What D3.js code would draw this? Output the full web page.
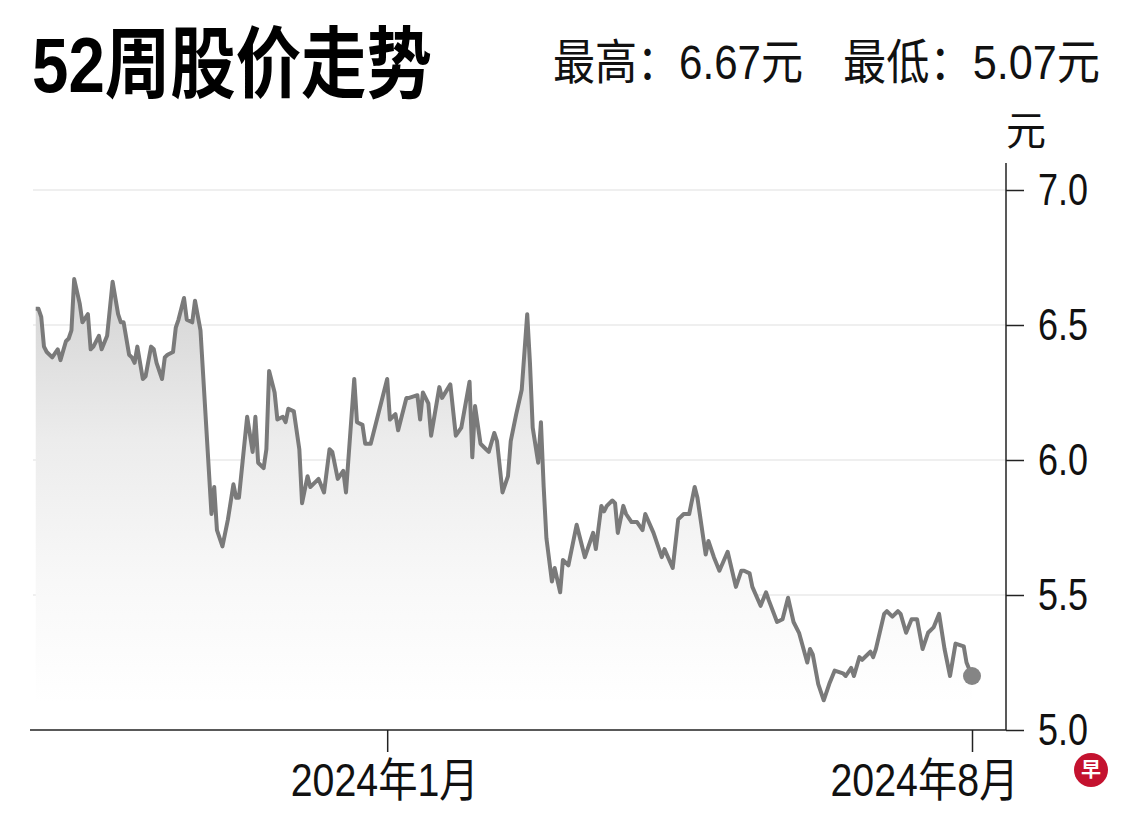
<!DOCTYPE html>
<html>
<head>
<meta charset="utf-8">
<script src="https://cdn.jsdelivr.net/npm/d3@7"></script>
<style>
  body { margin: 0; background: #fff; }
  svg { display: block; }
  .tick text { font-family: "Liberation Sans", "Noto Sans CJK SC", sans-serif; fill: #111; }
</style>
</head>
<body>
<div id="chart"></div>
<script>
// 52-week close prices (turning points)
const dates = [
  "2023-08-26","2023-08-27","2023-08-28","2023-08-29","2023-08-30","2023-09-01","2023-09-03","2023-09-04","2023-09-06","2023-09-07",
  "2023-09-08","2023-09-09","2023-09-11","2023-09-12","2023-09-14","2023-09-15","2023-09-16","2023-09-18","2023-09-19","2023-09-21",
  "2023-09-22","2023-09-23","2023-09-25","2023-09-26","2023-09-27","2023-09-29","2023-09-30","2023-10-01","2023-10-02","2023-10-04",
  "2023-10-05","2023-10-07","2023-10-08","2023-10-09","2023-10-11","2023-10-12","2023-10-13","2023-10-15","2023-10-16","2023-10-17",
  "2023-10-19","2023-10-20","2023-10-22","2023-10-23","2023-10-25","2023-10-29","2023-10-30","2023-10-31","2023-11-02","2023-11-04",
  "2023-11-06","2023-11-07","2023-11-08","2023-11-11","2023-11-13","2023-11-14","2023-11-15","2023-11-17","2023-11-18","2023-11-19",
  "2023-11-21","2023-11-22","2023-11-24","2023-11-25","2023-11-26","2023-11-28","2023-11-30","2023-12-01","2023-12-03","2023-12-04",
  "2023-12-06","2023-12-07","2023-12-09","2023-12-11","2023-12-12","2023-12-14","2023-12-16","2023-12-17","2023-12-20","2023-12-21",
  "2023-12-23","2023-12-24","2023-12-26","2023-12-27","2024-01-01","2024-01-02","2024-01-04","2024-01-05","2024-01-08","2024-01-09",
  "2024-01-12","2024-01-13","2024-01-14","2024-01-16","2024-01-17","2024-01-20","2024-01-21","2024-01-24","2024-01-26","2024-01-28",
  "2024-01-31","2024-02-01","2024-02-02","2024-02-04","2024-02-06","2024-02-07","2024-02-09","2024-02-10","2024-02-12","2024-02-14",
  "2024-02-15","2024-02-17","2024-02-19","2024-02-21","2024-02-22","2024-02-23","2024-02-25","2024-02-26","2024-02-27","2024-02-28",
  "2024-03-01","2024-03-02","2024-03-04","2024-03-05","2024-03-07","2024-03-10","2024-03-13","2024-03-16","2024-03-17","2024-03-19",
  "2024-03-20","2024-03-21","2024-03-23","2024-03-24","2024-03-25","2024-03-27","2024-03-28","2024-03-30","2024-03-31","2024-04-01",
  "2024-04-03","2024-04-04","2024-04-07","2024-04-10","2024-04-11","2024-04-14","2024-04-16","2024-04-18","2024-04-20","2024-04-22",
  "2024-04-23","2024-04-26","2024-04-27","2024-04-29","2024-05-01","2024-05-04","2024-05-07","2024-05-09","2024-05-10","2024-05-12",
  "2024-05-13","2024-05-16","2024-05-18","2024-05-19","2024-05-22","2024-05-24","2024-05-26","2024-05-28","2024-05-30","2024-06-02",
  "2024-06-03","2024-06-04","2024-06-06","2024-06-08","2024-06-10","2024-06-12","2024-06-15","2024-06-16","2024-06-18","2024-06-19",
  "2024-06-21","2024-06-22","2024-06-25","2024-06-26","2024-06-27","2024-06-30","2024-07-01","2024-07-03","2024-07-05","2024-07-06",
  "2024-07-08","2024-07-10","2024-07-12","2024-07-14","2024-07-16","2024-07-18","2024-07-20","2024-07-22","2024-07-24","2024-07-26",
  "2024-07-29","2024-07-30","2024-08-01"
];
const prices = [
  6.56,6.56,6.53,6.42,6.40,6.38,6.41,6.37,6.44,6.45,
  6.48,6.67,6.58,6.51,6.54,6.41,6.42,6.46,6.41,6.46,
  6.56,6.66,6.54,6.51,6.51,6.39,6.38,6.36,6.42,6.30,
  6.31,6.42,6.41,6.36,6.30,6.38,6.39,6.40,6.49,6.52,
  6.60,6.52,6.51,6.59,6.48,5.80,5.90,5.74,5.68,5.78,
  5.91,5.86,5.86,6.16,6.03,6.16,5.99,5.97,6.04,6.33,
  6.25,6.15,6.16,6.14,6.19,6.18,6.04,5.84,5.94,5.90,
  5.92,5.93,5.88,6.04,6.03,5.93,5.96,5.88,6.30,6.14,
  6.13,6.06,6.06,6.10,6.30,6.15,6.17,6.11,6.23,6.23,
  6.24,6.15,6.25,6.21,6.09,6.27,6.23,6.28,6.09,6.12,
  6.29,6.01,6.20,6.06,6.04,6.03,6.10,6.07,5.88,5.94,
  6.07,6.17,6.26,6.54,6.36,6.12,5.99,6.14,5.90,5.71,
  5.55,5.60,5.51,5.63,5.61,5.76,5.64,5.73,5.67,5.83,
  5.81,5.83,5.85,5.84,5.73,5.83,5.80,5.77,5.77,5.77,
  5.74,5.80,5.73,5.64,5.67,5.60,5.78,5.80,5.80,5.90,
  5.86,5.65,5.70,5.64,5.59,5.66,5.53,5.59,5.59,5.58,
  5.53,5.46,5.51,5.48,5.40,5.41,5.49,5.40,5.36,5.25,
  5.30,5.28,5.17,5.11,5.17,5.22,5.21,5.20,5.23,5.20,
  5.27,5.26,5.29,5.27,5.30,5.43,5.44,5.42,5.44,5.43,
  5.36,5.41,5.41,5.30,5.36,5.38,5.43,5.30,5.20,5.32,
  5.31,5.25,5.20
];
const yTicks = [5.0, 5.5, 6.0, 6.5, 7.0];
const xTickDates = ["2024-01-01", "2024-08-01"];
const xTickLabels = ["2024年1月", "2024年8月"];
const titleText = "52周股价走势";
const highText = "最高：6.67元";
const lowText = "最低：5.07元";
const unitText = "元";

const width = 1140, height = 818;
const parseDate = d3.timeParse("%Y-%m-%d");
const data = dates.map(function (d, i) { return { date: parseDate(d), price: prices[i] }; });

const svg = d3.select("#chart").append("svg")
  .attr("width", width)
  .attr("height", height)
  .style("font-family", "'Liberation Sans', 'Noto Sans CJK SC', sans-serif");

const x = d3.scaleTime()
  .domain([parseDate("2023-08-25"), parseDate("2024-08-01")])
  .range([33, 972]);
const y = d3.scaleLinear()
  .domain([5.0, 7.0])
  .range([730, 190]);
const axisX = 1006;

// gradient under the line
const grad = svg.append("defs").append("linearGradient")
  .attr("id", "fade")
  .attr("gradientUnits", "userSpaceOnUse")
  .attr("x1", 0).attr("x2", 0)
  .attr("y1", y(6.6)).attr("y2", y(5.1));
grad.append("stop").attr("offset", 0).attr("stop-color", "#d6d6d6");
grad.append("stop").attr("offset", 0.35).attr("stop-color", "#ececec");
grad.append("stop").attr("offset", 0.7).attr("stop-color", "#f8f8f8");
grad.append("stop").attr("offset", 1).attr("stop-color", "#ffffff");

// gridlines
svg.append("g").selectAll("line")
  .data(yTicks.slice(1))
  .enter().append("line")
  .attr("x1", 33).attr("x2", axisX)
  .attr("y1", function (d) { return y(d); })
  .attr("y2", function (d) { return y(d); })
  .attr("stroke", "#efefef")
  .attr("stroke-width", 2);

// area + line
const area = d3.area()
  .x(function (d) { return x(d.date); })
  .y0(y(5.0))
  .y1(function (d) { return y(d.price); });
svg.append("path").datum(data)
  .attr("d", area)
  .attr("fill", "url(#fade)");

const line = d3.line()
  .x(function (d) { return x(d.date); })
  .y(function (d) { return y(d.price); });
svg.append("path").datum(data)
  .attr("d", line)
  .attr("fill", "none")
  .attr("stroke", "#7a7a7a")
  .attr("stroke-width", 4)
  .attr("stroke-linejoin", "round");

const last = data[data.length - 1];
svg.append("circle")
  .attr("cx", x(last.date))
  .attr("cy", y(last.price))
  .attr("r", 9)
  .attr("fill", "#858585");

// x axis
const xAxis = d3.axisBottom(x)
  .tickValues(xTickDates.map(parseDate))
  .tickFormat(function (d, i) { return xTickLabels[i]; })
  .tickSize(22)
  .tickPadding(11);
const gx = svg.append("g")
  .attr("transform", "translate(0," + y(5.0) + ")")
  .call(xAxis);
gx.select(".domain").remove();
gx.selectAll(".tick line").attr("stroke", "#222").attr("stroke-width", 1.5);
gx.selectAll(".tick text")
  .attr("font-size", 46)
  .attr("textLength", 188)
  .attr("lengthAdjust", "spacingAndGlyphs")
  // the last label is pulled left so it stays inside the chart
  .attr("dx", function (d, i) { return i === xTickLabels.length - 1 ? -48 : -3; });
svg.append("line")
  .attr("x1", 30).attr("x2", axisX)
  .attr("y1", y(5.0)).attr("y2", y(5.0))
  .attr("stroke", "#222").attr("stroke-width", 1.5);

// y axis on the right
const yAxis = d3.axisRight(y)
  .tickValues(yTicks)
  .tickFormat(d3.format(".1f"))
  .tickSize(18)
  .tickPadding(14);
const gy = svg.append("g")
  .attr("transform", "translate(" + axisX + ",0)")
  .call(yAxis);
gy.select(".domain").remove();
gy.selectAll(".tick line").attr("stroke", "#222").attr("stroke-width", 1.5);
gy.selectAll(".tick text")
  .attr("font-size", 44)
  .attr("textLength", 50)
  .attr("lengthAdjust", "spacingAndGlyphs");
svg.append("line")
  .attr("x1", axisX).attr("x2", axisX)
  .attr("y1", y(7.1)).attr("y2", y(5.0))
  .attr("stroke", "#222").attr("stroke-width", 1.5);

svg.append("text")
  .attr("x", 1026).attr("y", 145)
  .attr("text-anchor", "middle")
  .attr("font-size", 40)
  .attr("fill", "#111")
  .text(unitText);

// title and high / low
svg.append("text")
  .attr("x", 32).attr("y", 92)
  .attr("font-size", 78)
  .attr("font-weight", "bold")
  .attr("fill", "#000")
  .attr("textLength", 400)
  .attr("lengthAdjust", "spacingAndGlyphs")
  .text(titleText);

svg.append("text")
  .attr("x", 553).attr("y", 79)
  .attr("font-size", 48)
  .attr("fill", "#111")
  .attr("textLength", 250)
  .attr("lengthAdjust", "spacingAndGlyphs")
  .text(highText);
svg.append("text")
  .attr("x", 843).attr("y", 79)
  .attr("font-size", 48)
  .attr("fill", "#111")
  .attr("textLength", 257)
  .attr("lengthAdjust", "spacingAndGlyphs")
  .text(lowText);

// logo
svg.append("circle")
  .attr("cx", 1091).attr("cy", 770).attr("r", 17)
  .attr("fill", "#c4122f");
svg.append("text")
  .attr("x", 1091).attr("y", 777)
  .attr("text-anchor", "middle")
  .attr("font-size", 20)
  .attr("font-weight", "bold")
  .attr("fill", "#fff")
  .style("font-family", "'Noto Sans CJK SC', sans-serif")
  .text("早");
</script>
</body>
</html>
